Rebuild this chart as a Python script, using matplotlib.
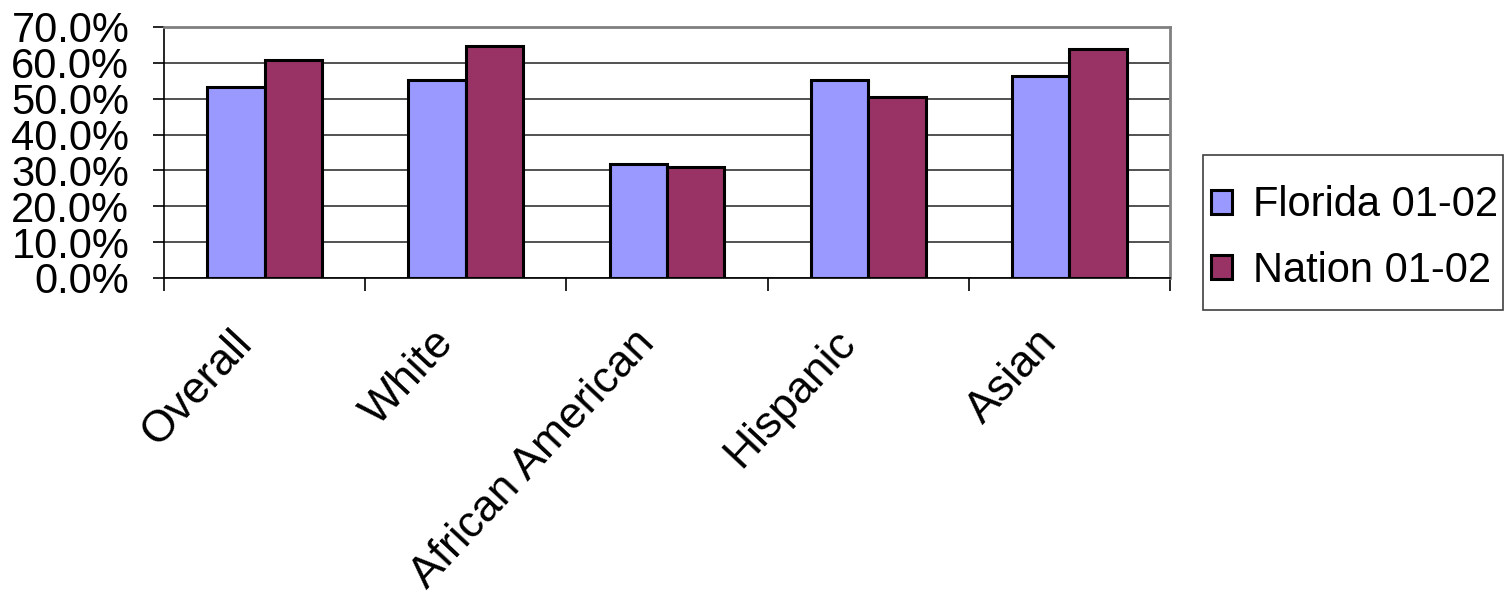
import matplotlib
matplotlib.use("Agg")
import matplotlib.pyplot as plt
import numpy as np
from matplotlib.ticker import FuncFormatter, MultipleLocator, FixedLocator
from matplotlib.transforms import offset_copy
from matplotlib.patches import Rectangle

plt.rcParams['font.family'] = ['Liberation Sans', 'DejaVu Sans']

categories = ["Overall", "White", "African American", "Hispanic", "Asian"]
florida = [53.4, 55.3, 31.9, 55.3, 56.2]
nation = [60.8, 64.8, 31.0, 50.6, 63.8]
series_names = ["Florida 01-02", "Nation 01-02"]
colors = ["#9999FF", "#993366"]

fig = plt.figure(figsize=(15.05, 5.96), dpi=100)
ax = fig.add_axes([164/1505, 1 - 278/596, (1170-164)/1505, (278-27)/596])

x = np.arange(len(categories))
w = 1/3.5
ax.bar(x - w/2, florida, width=w, color=colors[0], edgecolor='black', linewidth=2.2, label=series_names[0], zorder=3)
ax.bar(x + w/2, nation, width=w, color=colors[1], edgecolor='black', linewidth=2.2, label=series_names[1], zorder=3)

ax.set_xlim(-0.5, len(categories) - 0.5)
ax.set_ylim(0, 70)
ax.yaxis.set_major_locator(MultipleLocator(10))
ax.yaxis.set_major_formatter(FuncFormatter(lambda v, p: f"{v:.1f}%"))
ax.grid(axis='y', color='#333333', linewidth=1.2, zorder=0)
ax.tick_params(axis='y', labelsize=30, length=8, width=1.2, direction='out', pad=17)

ax.xaxis.set_major_locator(FixedLocator(np.arange(-0.5, len(categories), 1.0)))
ax.tick_params(axis='x', length=9, width=1.2, direction='out', labelbottom=False)
base = ax.get_xaxis_transform()
for xi, lab in zip(x, categories):
    tr = offset_copy(base, fig=fig, x=-34, y=-44, units='dots')
    ax.text(xi, 0, lab, transform=tr, rotation=47,
            rotation_mode='anchor', ha='right', va='top', fontsize=32)

for side in ['top', 'right']:
    ax.spines[side].set_color('#808080')
    ax.spines[side].set_linewidth(2.0)
ax.spines['left'].set_color('black')
ax.spines['bottom'].set_color('black')
ax.spines['left'].set_linewidth(1.2)
ax.spines['bottom'].set_linewidth(1.2)

# legend frame drawn separately
fig.patches.append(Rectangle((1203/1505, 1 - 310/596), (1503-1203)/1505, 155/596,
                             transform=fig.transFigure, facecolor='white',
                             edgecolor='#404040', linewidth=1.2, zorder=1))
leg = fig.legend(loc='center left',
                 bbox_to_anchor=(1203/1505, 1 - 238/596),
                 fontsize=30, frameon=False, handlelength=0.5, handleheight=0.5,
                 handletextpad=0.5, labelspacing=0.6, borderpad=0.2, borderaxespad=0)
leg.set_zorder(2)
for h in leg.legend_handles:
    h.set_linewidth(2.2)

fig.savefig("out.png", dpi=100)
